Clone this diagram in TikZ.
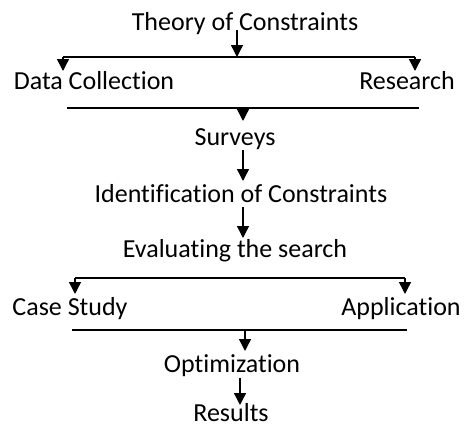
\documentclass[tikz,border=0pt]{standalone}
\usepackage{fontspec}
\setmainfont[Ligatures={NoCommon,NoContextual}]{Carlito}
\usetikzlibrary{arrows.meta}
\begin{document}
\begin{tikzpicture}[x=1pt,y=-1pt,
  lbl/.style={anchor=base,inner sep=0pt,font=\fontsize{26}{30}\selectfont},
  bar/.style={line width=1.4pt},
  arr/.style={line width=1.4pt,-{Triangle[width=12pt,length=12pt]}}]
\useasboundingbox (0,0) rectangle (464,429);

% labels, placed on their baselines
\node[lbl] (toc) at (245,30) {Theory of Constraints};
\node[lbl] (dc)  at (94,89)  {Data Collection};
\node[lbl] (res) at (407,89) {Research};
\node[lbl] (sur) at (235,145) {Surveys};
\node[lbl] (idc) at (241,202) {Identification of Constraints};
\node[lbl] (eva) at (235,257) {Evaluating the search};
\node[lbl] (cs)  at (70,315) {Case Study};
\node[lbl] (app) at (401,315) {Application};
\node[lbl] (opt) at (232,372) {Optimization};
\node[lbl] (rsl) at (231,421) {Results};

% split below the title
\coordinate (s1a) at (237,30);
\coordinate (s1m) at (237,57);
\coordinate (s1l) at (63,57);
\coordinate (s1r) at (415,57);
\coordinate (s1lt) at (63,71);
\coordinate (s1rt) at (415,71);
\draw[arr] (s1a) -- (s1m);
\draw[bar] (s1l) -- (s1r);
\draw[arr] (s1l) -- (s1lt);
\draw[arr] (s1r) -- (s1rt);

% merge into Surveys
\coordinate (j1l) at (67,108);
\coordinate (j1r) at (419,108);
\coordinate (j1m) at (243,108);
\coordinate (j1t) at (243,121);
\draw[bar] (j1l) -- (j1r);
\draw[arr] (j1m) -- (j1t);

% straight chain
\coordinate (c1a) at (243,150);
\coordinate (c1b) at (243,181);
\coordinate (c2a) at (243,207);
\coordinate (c2b) at (243,238);
\draw[arr] (c1a) -- (c1b);
\draw[arr] (c2a) -- (c2b);

% split below the evaluation
\coordinate (s2l) at (75,278);
\coordinate (s2r) at (405,278);
\coordinate (s2lt) at (75,294);
\coordinate (s2rt) at (405,294);
\draw[bar] (s2l) -- (s2r);
\draw[arr] (s2l) -- (s2lt);
\draw[arr] (s2r) -- (s2rt);

% merge into Optimization
\coordinate (j2l) at (72,330);
\coordinate (j2r) at (407,330);
\coordinate (j2m) at (245,330);
\coordinate (j2t) at (245,351);
\draw[bar] (j2l) -- (j2r);
\draw[arr] (j2m) -- (j2t);

% final step
\coordinate (c3a) at (240,378);
\coordinate (c3b) at (240,405);
\draw[arr] (c3a) -- (c3b);
\end{tikzpicture}
\end{document}
